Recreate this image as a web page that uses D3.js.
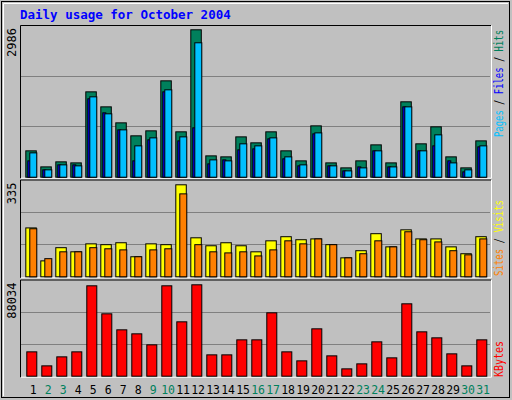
<!DOCTYPE html>
<html><head><meta charset="utf-8">
<script src="https://cdn.jsdelivr.net/npm/d3@7"></script>
<style>body{margin:0;background:#fff}</style>
</head><body>
<svg id="c" width="512" height="400"></svg>
<script>
const days = d3.range(1, 32);
const weekend = [2, 3, 9, 10, 16, 17, 23, 24, 30, 31];
const hits = [534,209,311,290,1729,1425,1101,838,939,1952,919,2986,432,412,817,696,919,534,331,1040,290,189,331,655,290,1527,676,1020,412,189,736];
const files = [493,149,250,230,1628,1284,959,635,797,1770,817,2723,351,331,676,635,797,412,250,898,230,128,189,534,209,1425,534,858,290,149,635];
const pages = [331,149,250,250,1588,1304,959,331,757,1729,736,1000,270,351,554,574,777,372,230,878,230,128,209,534,209,1425,534,635,331,108,615];
const visits = [178,58,106,91,120,117,124,73,120,117,335,142,113,124,113,91,131,146,135,138,117,69,95,157,109,171,138,138,109,84,146];
const sites = [175,66,91,91,106,102,98,73,98,102,302,117,91,87,91,76,98,131,120,138,117,69,84,131,109,164,135,127,95,80,138];
const kbytes = [23454,9960,18635,23454,87070,60082,44660,40804,30201,87070,52371,88034,20562,20562,35021,35021,61046,23454,14780,45624,19599,7069,11888,33093,17671,69721,42732,36949,21526,9960,35021];

const svg = d3.select("#c");
const mono = "'DejaVu Sans Mono', monospace";

// frame
svg.append("rect").attr("x", 0).attr("y", 0).attr("width", 512).attr("height", 400).attr("fill", "#c0c0c0");
svg.append("rect").attr("x", 1.5).attr("y", 1.5).attr("width", 508).attr("height", 396)
    .attr("fill", "none").attr("stroke", "#000");
svg.append("path").attr("d", "M3.5,396V3.5H508").attr("stroke", "#fff").attr("fill", "none");

svg.append("text").attr("x", 20).attr("y", 19).attr("fill", "#0000ff")
    .attr("font-family", mono).attr("font-weight", "bold").attr("font-size", 12.5)
    .text("Daily usage for October 2004");

const x = d3.scaleBand().domain(days).range([25.3, 25.3 + 15 * 31]);

const panels = [
    {top: 25, bottom: 176.7, maxY: 29.3, max: 2986},
    {top: 179.5, bottom: 276.3, maxY: 184.3, max: 335},
    {top: 279.5, bottom: 375.7, maxY: 284.3, max: 88034}
];

panels.forEach(p => {
    p.y = d3.scaleLinear().domain([0, p.max]).range([p.bottom, p.maxY]);
    const h = p.bottom - p.top;
    const g = svg.append("g");
    [1, 2].forEach(k => {
        g.append("line").attr("x1", 21).attr("x2", 490)
            .attr("y1", Math.round(p.bottom - h * k / 3) + 0.5).attr("y2", Math.round(p.bottom - h * k / 3) + 0.5)
            .attr("stroke", "#808080").attr("stroke-width", 1.2);
    });
    g.append("path").attr("d", `M20.5,${p.bottom + 1.5}V${p.top + 0.5}H491`).attr("stroke", "#000").attr("fill", "none");
    g.append("path").attr("d", `M21,${p.bottom + 1.5}H491.5V${p.top + 0.5}`).attr("stroke", "#fff").attr("fill", "none");
    g.append("text").attr("transform", `translate(16,${p.top + 3}) rotate(-90)`)
        .attr("text-anchor", "end").attr("font-family", mono).attr("font-size", 12).attr("fill", "#000")
        .text(p.max);
});

function bars(data, p, dx, w, color) {
    svg.append("g").selectAll("rect").data(data).join("rect")
        .attr("x", (d, i) => x(days[i]) + dx + 0.5)
        .attr("y", d => p.y(d) + 0.5)
        .attr("width", w)
        .attr("height", d => p.bottom - p.y(d))
        .attr("fill", color).attr("stroke", "#000");
}

bars(hits, panels[0], 0, 10.5, "#00805c");
bars(pages, panels[0], 2, 3, "#0000ff");
bars(files, panels[0], 4, 7, "#00c0ff");
bars(visits, panels[1], 0, 10.5, "#ffff00");
bars(sites, panels[1], 4, 7, "#ff8000");
bars(kbytes, panels[2], 1, 10, "#ff0000");

// right legends
function legend(parts, yEnd, len) {
    const t = svg.append("text").attr("transform", `translate(503,${yEnd}) rotate(-90)`)
        .attr("font-family", mono).attr("font-size", 11.5)
        .attr("textLength", len).attr("lengthAdjust", "spacingAndGlyphs");
    parts.forEach(([s, c]) => t.append("tspan").attr("fill", c).text(s));
}
legend([["Pages", "#00c0ff"], [" / ", "#000"], ["Files", "#0000ff"], [" / ", "#000"], ["Hits", "#00805c"]], 137, 107);
legend([["Sites", "#ff8000"], [" / ", "#000"], ["Visits", "#ffff00"]], 276, 76);
legend([["KBytes", "#ff0000"]], 377, 36);

svg.append("g").selectAll("text").data(days).join("text")
    .attr("x", d => x(d) + 7.8).attr("y", 394)
    .attr("text-anchor", "middle").attr("font-family", mono).attr("font-size", 11.5)
    .attr("fill", d => weekend.includes(d) ? "#00805c" : "#000")
    .text(d => d);
</script>
</body></html>
